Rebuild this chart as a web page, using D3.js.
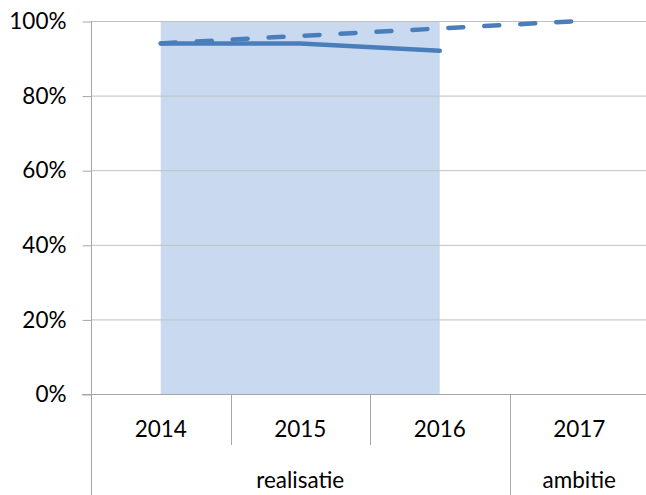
<!DOCTYPE html>
<html>
<head>
<meta charset="utf-8">
<script src="https://cdn.jsdelivr.net/npm/d3@7"></script>
<style>
    body { margin: 0; background: #fff; }
    svg { display: block; }
</style>
</head>
<body>
<svg id="chart" width="646" height="495"></svg>
<script>
// chart data
const years = ["2014", "2015", "2016", "2017"];
const groups = [
    { name: "realisatie", from: "2014", to: "2016" },
    { name: "ambitie", from: "2017", to: "2017" }
];
const realised = [0.94, 0.94, 0.92];          // solid line, 2014-2016
const target = [0.94, 0.96, 0.98, 1.0];        // dashed line, 2014-2017
const shadeYears = ["2014", "2016"];
const yTicks = [0, 0.2, 0.4, 0.6, 0.8, 1.0];

const svg = d3.select("#chart");
const font = "Lato, 'Open Sans', sans-serif";
const lineColor = "#4a7ebb";

// scales
const x = d3.scaleBand().domain(years).range([91, 649]).padding(0);
const y = d3.scaleLinear().domain([0, 1]).range([394, 21]);
const cx = (d) => x(d) + x.bandwidth() / 2;

// shaded realisation period
svg.append("rect")
    .attr("x", cx(shadeYears[0]))
    .attr("y", y(1))
    .attr("width", cx(shadeYears[1]) - cx(shadeYears[0]))
    .attr("height", y(0) - y(1))
    .style("fill", "#c9daf0");

// gridlines
svg.append("g")
    .selectAll("line")
    .data(yTicks.filter((d) => d > 0))
    .enter()
    .append("line")
    .attr("x1", 91)
    .attr("x2", 649)
    .attr("y1", (d) => y(d) + 0.5)
    .attr("y2", (d) => y(d) + 0.5)
    .style("stroke", "#c0c0c0")
    .style("stroke-width", 1);

// y axis
const yAxis = svg.append("g")
    .attr("transform", "translate(91.5,0.5)")
    .call(d3.axisLeft(y).tickValues(yTicks).tickFormat(d3.format(".0%")).tickSize(9).tickSizeOuter(0));
yAxis.select(".domain").remove();
yAxis.selectAll("line").style("stroke", "#a6a6a6");
yAxis.selectAll("text")
    .attr("x", -25)
    .style("font-family", font)
    .style("font-size", "22.5px")
    .style("fill", "#000");

// vertical axis line running down to the group labels
svg.append("line")
    .attr("x1", 91.5).attr("x2", 91.5)
    .attr("y1", y(1)).attr("y2", 495)
    .style("stroke", "#a6a6a6");

// x axis line
svg.append("line")
    .attr("x1", 82).attr("x2", 649)
    .attr("y1", y(0) + 0.5).attr("y2", y(0) + 0.5)
    .style("stroke", "#a6a6a6");

// category dividers
svg.append("g")
    .selectAll("line")
    .data(years.slice(1))
    .enter()
    .append("line")
    .attr("x1", (d) => Math.round(x(d)) + 0.5)
    .attr("x2", (d) => Math.round(x(d)) + 0.5)
    .attr("y1", y(0))
    .attr("y2", (d) => groups.some((g) => g.from === d) ? 495 : 445)
    .style("stroke", "#a6a6a6");

// category labels
svg.append("g")
    .selectAll("text")
    .data(years)
    .enter()
    .append("text")
    .attr("x", cx)
    .attr("y", 437)
    .attr("text-anchor", "middle")
    .style("font-family", font)
    .style("font-size", "22.5px")
    .text((d) => d);

// group labels
svg.append("g")
    .selectAll("text")
    .data(groups)
    .enter()
    .append("text")
    .attr("x", (d) => (x(d.from) + x(d.to) + x.bandwidth()) / 2)
    .attr("y", 488)
    .attr("text-anchor", "middle")
    .style("font-family", font)
    .style("font-size", "22.5px")
    .text((d) => d.name);

// lines
const line = d3.line()
    .x((d, i) => cx(years[i]))
    .y((d) => y(d));

svg.append("path")
    .datum(target)
    .attr("d", line)
    .style("fill", "none")
    .style("stroke", lineColor)
    .style("stroke-width", 4.5)
    .style("stroke-linecap", "round")
    .style("stroke-dasharray", "15,21");

svg.append("path")
    .datum(realised)
    .attr("d", line)
    .style("fill", "none")
    .style("stroke", lineColor)
    .style("stroke-width", 4.5)
    .style("stroke-linecap", "round");
</script>
</body>
</html>
